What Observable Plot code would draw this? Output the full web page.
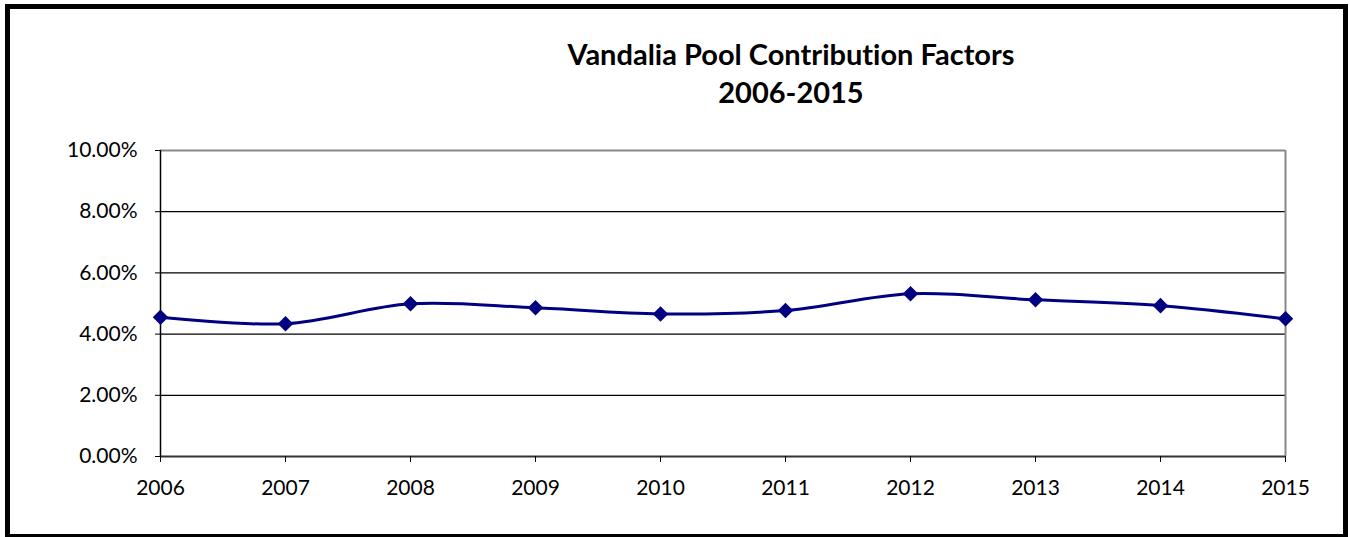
<!DOCTYPE html>
<html>
<head>
<meta charset="utf-8">
<script src="https://cdn.jsdelivr.net/npm/d3@7"></script>
<script src="https://cdn.jsdelivr.net/npm/@observablehq/plot@0.6"></script>
<style>
  html, body { margin: 0; padding: 0; background: #fff; }
  #wrap { position: relative; width: 1350px; height: 537px; overflow: hidden; font-family: Lato, "Open Sans", sans-serif; font-variant-ligatures: none; }
  #frame { position: absolute; left: 5px; top: 4px; width: 1343px; height: 535px; box-sizing: border-box; border: 5px solid #000; }
  #title { position: absolute; left: 391px; width: 800px; top: 35px; text-align: center; font-weight: bold; font-size: 29px; line-height: 38px; color: #000; }
  #chart { position: absolute; left: 0; top: 110px; }
  #chart svg text { font-variant-ligatures: none; }
</style>
</head>
<body>
<div id="wrap">
  <div id="frame"></div>
  <div id="title">Vandalia Pool Contribution Factors<br>2006-2015</div>
  <div id="chart"></div>
</div>
<script>
const years = [2006, 2007, 2008, 2009, 2010, 2011, 2012, 2013, 2014, 2015];
const factors = [0.0455, 0.0434, 0.0499, 0.0486, 0.0466, 0.0477, 0.0532, 0.0512, 0.0493, 0.0450];
const yTicks = [0, 0.02, 0.04, 0.06, 0.08, 0.10];
const gridTicks = [0.02, 0.04, 0.06, 0.08];

const data = years.map((year, i) => ({year, value: factors[i]}));

const chart = Plot.plot({
  width: 1350,
  height: 427,
  marginTop: 40,
  marginBottom: 81,
  marginLeft: 160,
  marginRight: 65,
  style: { fontFamily: "Lato, 'Open Sans', sans-serif", fontSize: "21px", color: "#000", background: "transparent", overflow: "visible" },
  x: { type: "linear", domain: [2006, 2015] },
  y: { domain: [0, 0.10] },
  marks: [
    Plot.ruleY(gridTicks, { stroke: "#000", strokeWidth: 1.2, strokeOpacity: 1 }),
    Plot.ruleY([0.10], { stroke: "#888", strokeWidth: 2 }),
    Plot.ruleX([2015], { stroke: "#888", strokeWidth: 2 }),
    Plot.ruleY([0], { stroke: "#333", strokeWidth: 2 }),
    Plot.ruleX([2006], { stroke: "#000", strokeWidth: 1.5 }),
    Plot.axisY({ ticks: yTicks, tickFormat: d3.format(".2%"), tickSize: 5, tickPadding: 18, label: null, stroke: "#000", fontSize: 21 }),
    Plot.axisX({ ticks: years, tickFormat: d3.format("d"), tickSize: 6, tickPadding: 18, label: null, stroke: "#000", fontSize: 21 }),
    Plot.line(data, { x: "year", y: "value", stroke: "#000080", strokeWidth: 3, curve: "catmull-rom" }),
    Plot.dot(data, { x: "year", y: "value", symbol: "diamond2", r: 7, fill: "#000080", stroke: "none" })
  ]
});
document.getElementById("chart").appendChild(chart);
</script>
</body>
</html>
